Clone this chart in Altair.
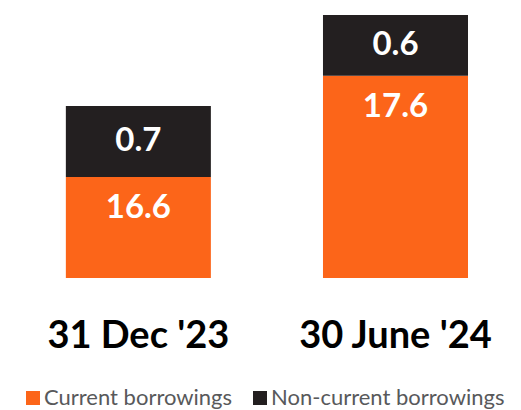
import altair as alt
import pandas as pd

periods = ["31 Dec '23", "30 June '24"]
series = ["Current borrowings", "Non-current borrowings"]
current_vals = [16.6, 17.6]
noncurrent_vals = [0.7, 0.6]
colors = ["#FC6519", "#231F20"]

rows = []
for i, p in enumerate(periods):
    rows.append({"period": p, "series": series[0], "value": current_vals[i], "order": 0,
                 "label": f"{current_vals[i]:.1f}"})
    rows.append({"period": p, "series": series[1], "value": noncurrent_vals[i], "order": 1,
                 "label": f"{noncurrent_vals[i]:.1f}"})
df = pd.DataFrame(rows)

base = alt.Chart(df).transform_stack(
    stack="value", as_=["v0", "v1"], groupby=["period"],
    sort=[alt.SortField("order", order="ascending")]
).transform_calculate(mid="(datum.v0 + datum.v1) / 2")

xenc = alt.X("period:N", sort=periods, title=None,
             scale=alt.Scale(paddingInner=0.436, paddingOuter=0.2, align=0.5625),
             axis=alt.Axis(labelAngle=0, labelFont="Lato", labelFontSize=38,
                           labelFontWeight="bold", labelColor="#000000",
                           labelPadding=39, labelLimit=1000, ticks=False, tickSize=0,
                           domain=False, grid=False))
yscale = alt.Scale(domain=[15.6, 18.27], zero=False, nice=False)

bars = base.mark_bar(clip=True).encode(
    x=xenc,
    y=alt.Y("v0:Q", scale=yscale, axis=None),
    y2="v1:Q",
    color=alt.Color("series:N", sort=series,
                    scale=alt.Scale(domain=series, range=colors),
                    legend=alt.Legend(title=None, orient="none", direction="horizontal",
                                      legendX=14, legendY=379, symbolType="square",
                                      symbolSize=196, symbolStrokeWidth=0,
                                      labelFont="Lato", labelFontSize=22,
                                      labelColor="#58595B", labelOffset=0,
                                      labelLimit=1000, columnPadding=16, padding=0)),
)

lab_cur = base.transform_filter(alt.datum.order == 0).mark_text(
    color="white", font="Lato", fontSize=33, fontWeight="bold", dy=31, baseline="middle"
).encode(x=alt.X("period:N", sort=periods), y=alt.Y("v1:Q", scale=yscale), text="label:N")

lab_non = base.transform_filter(alt.datum.order == 1).mark_text(
    color="white", font="Lato", fontSize=33, fontWeight="bold", baseline="middle"
).encode(x=alt.X("period:N", sort=periods), y=alt.Y("mid:Q", scale=yscale), text="label:N")

chart = alt.layer(bars, lab_cur, lab_non).properties(
    width=505, height=270,
    autosize=alt.AutoSizeParams(type="none"),
    padding={"left": 0, "top": 0, "right": 0, "bottom": 132},
).configure_view(stroke=None)

chart.save("out.html", embed_options={"renderer": "svg", "actions": False})
